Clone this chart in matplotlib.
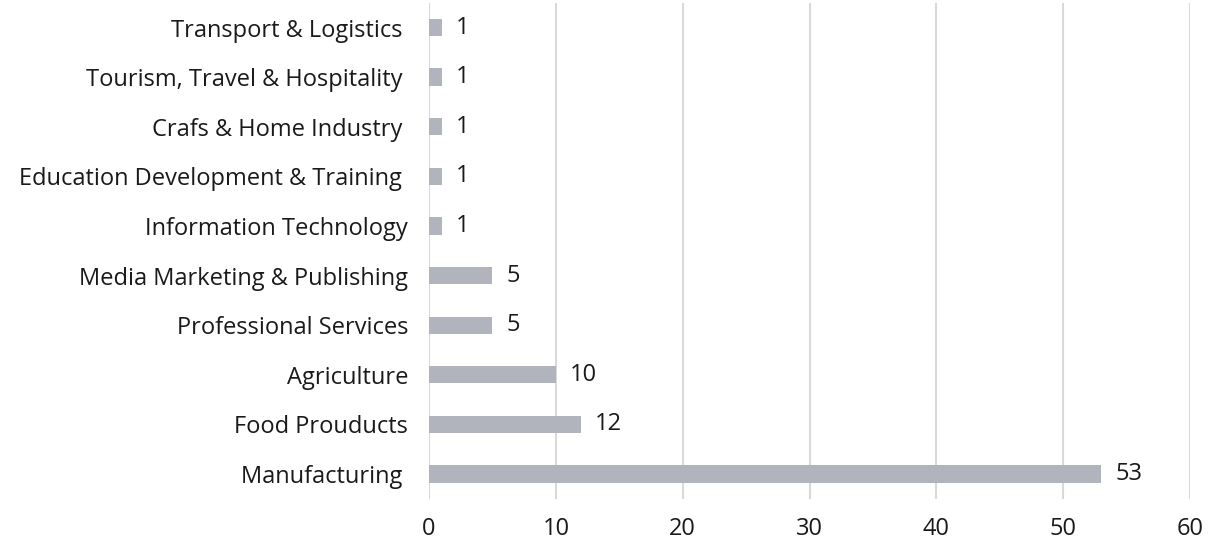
import matplotlib
matplotlib.use('Agg')
import matplotlib.pyplot as plt
import numpy as np

# sectors, bottom to top
sectors = ['Manufacturing ', 'Food Prouducts', 'Agriculture', 'Professional Services',
           'Media Marketing & Publishing', 'Information Technology',
           'Education Development & Training ', 'Crafs & Home Industry ',
           'Tourism, Travel & Hospitality ', 'Transport & Logistics ']
counts = [53, 12, 10, 5, 5, 1, 1, 1, 1, 1]
xticks = [0, 10, 20, 30, 40, 50, 60]

plt.rcParams['font.family'] = ['Open Sans', 'DejaVu Sans']
fs = 17

fig = plt.figure(figsize=(12.12, 5.44), dpi=100)
ax = fig.add_axes([0.354, 0.083, 0.628, 0.912])

y = np.arange(len(sectors))
ax.barh(y, counts, height=0.35, color='#b1b4bc', zorder=3)
for yi, c in zip(y, counts):
    ax.text(c + 1.1, yi, str(c), va='center', ha='left', fontsize=fs, color='#1a1a1a')

ax.set_xlim(0, 60)
ax.set_ylim(-0.5, len(sectors) - 0.5)
ax.set_xticks(xticks)
ax.set_yticks(y)
ax.set_yticklabels(sectors, fontsize=fs, color='#1a1a1a')
ax.tick_params(axis='x', labelsize=fs, colors='#1a1a1a', length=0, pad=13)
ax.tick_params(axis='y', length=0, pad=15)
ax.grid(axis='x', color='#d9d9d9', linewidth=1.5, zorder=0)
for s in ax.spines.values():
    s.set_visible(False)

fig.savefig('out.png', dpi=100)
